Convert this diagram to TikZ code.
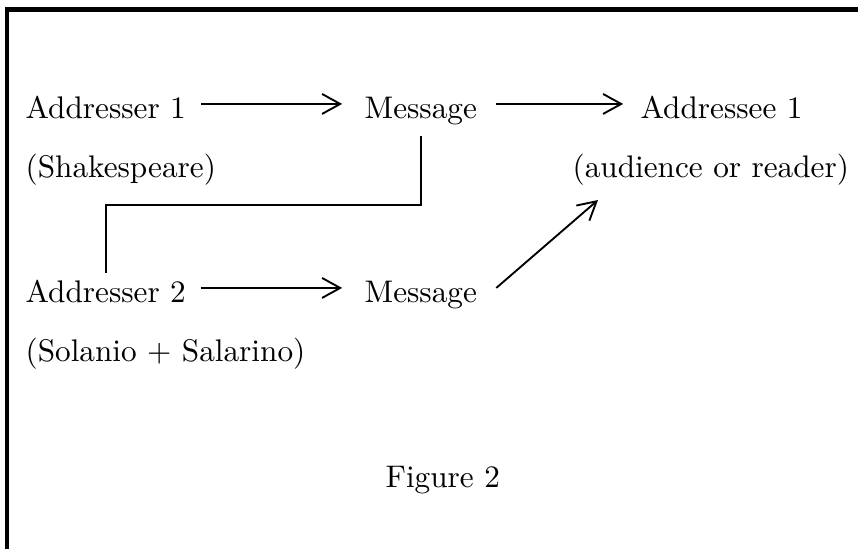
\documentclass[tikz,border=0pt]{standalone}
\usepackage{tikz}
\usetikzlibrary{arrows.meta}

\begin{document}
\begin{tikzpicture}[x=0.32pt, y=-0.32pt, every node/.style={font=\normalsize}, lbl/.style={anchor=base west,inner sep=0pt,text height=9pt,text depth=0pt}, flow/.style={-{Straight Barb[length=5.8pt,width=6.4pt]},line width=0.6pt}]
    \useasboundingbox (0,0) rectangle (858,549);
    \draw[line width=1.4pt] (6.8,549) -- (6.8,9.5) -- (858,9.5);

    \node[lbl] (a1) at (25,118) {Addresser 1};
    \node[lbl] (m1) at (364,118) {Message};
    \node[lbl] (e1) at (640,118) {Addressee 1};
    \node[lbl] (s1) at (25,177) {(Shakespeare)};
    \node[lbl] (r1) at (572,177) {(audience or reader)};
    \node[lbl] (a2) at (25,302) {Addresser 2};
    \node[lbl] (m2) at (364,302) {Message};
    \node[lbl] (s2) at (25,361) {(Solanio + Salarino)};
    \node[lbl] (fig) at (385,487) {Figure 2};
    \coordinate (bend) at (420,205);
    \coordinate (tip) at (598,200);

    \draw[flow, shorten <=4.8pt, shorten >=7pt] (a1) -- (m1);
    \draw[flow, shorten <=6pt, shorten >=5.4pt] (m1) -- (e1);
    \draw[flow, shorten <=4.5pt, shorten >=7pt] (a2) -- (m2);
    \draw[flow] ([xshift=6pt]m2.east) -- (tip);
    \draw[line width=0.6pt, shorten <=5.4pt] (m1.south) -- (m1.south |- bend) -| (a2.north);
\end{tikzpicture}
\end{document}
